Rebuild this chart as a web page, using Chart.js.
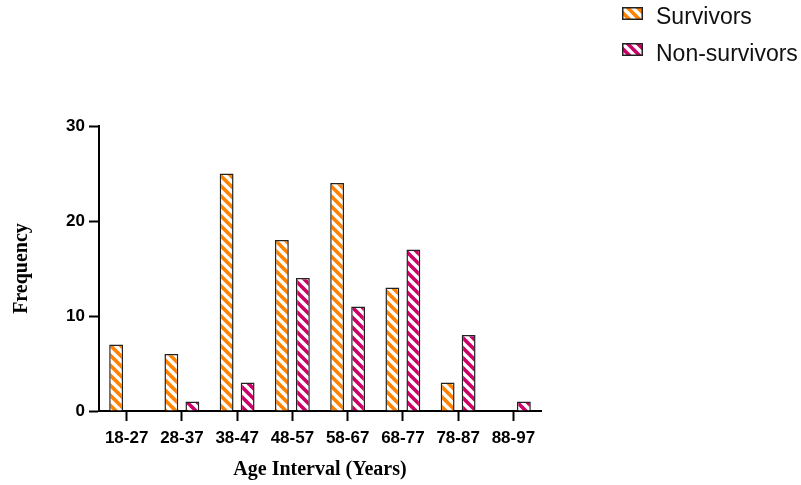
<!DOCTYPE html>
<html>
<head>
<meta charset="utf-8">
<script src="https://cdn.jsdelivr.net/npm/chart.js@4/dist/chart.umd.min.js"></script>
<style>
    body { margin: 0; background: #fff; }
    #wrap { position: relative; width: 801px; height: 485px; }
    .leg { position: absolute; left: 622px; font-family: 'Liberation Sans', Arial, sans-serif; font-size: 23px; line-height: 23px; color: #111; }
    .leg canvas { position: absolute; left: 0; }
    .leg span { position: absolute; left: 34px; top: 0; white-space: nowrap; }
</style>
</head>
<body>
<div id="wrap">
    <canvas id="grafico" width="801" height="485"></canvas>
    <div class="leg" style="top:5px"><canvas id="sw0" width="21" height="13" style="top:2px"></canvas><span>Survivors</span></div>
    <div class="leg" style="top:42px"><canvas id="sw1" width="21" height="13" style="top:1px"></canvas><span>Non-survivors</span></div>
</div>
<script>
const faixas = ['18-27', '28-37', '38-47', '48-57', '58-67', '68-77', '78-87', '88-97'];
const sobreviventes = [7, 6, 25, 18, 24, 13, 3, 0];
const naoSobreviventes = [0, 1, 3, 14, 11, 17, 8, 1];
const nomesSeries = ['Survivors', 'Non-survivors'];
const coresSeries = ['#ff8200', '#cc0066'];
const ticksY = [0, 10, 20, 30];

// listras diagonais brancas sobre a cor
function criarListra(cor) {
    const tile = document.createElement('canvas');
    tile.width = 10; tile.height = 10;
    const c = tile.getContext('2d');
    c.fillStyle = cor;
    c.fillRect(0, 0, 10, 10);
    c.strokeStyle = '#fff';
    c.lineWidth = 3.4;
    for (let k = -1; k <= 1; k++) {
        c.beginPath();
        c.moveTo(k * 10 - 5, -5);
        c.lineTo(k * 10 + 15, 15);
        c.stroke();
    }
    return c.createPattern(tile, 'repeat');
}

const padroes = coresSeries.map(criarListra);

// legenda
['sw0', 'sw1'].forEach((id, i) => {
    const c = document.getElementById(id).getContext('2d');
    c.fillStyle = padroes[i];
    c.fillRect(0, 0, 21, 13);
    c.strokeStyle = '#222';
    c.lineWidth = 1.5;
    c.strokeRect(0.75, 0.75, 19.5, 11.5);
});

const fonteTick = { family: "'Liberation Sans', Arial, sans-serif", size: 17, weight: 'bold' };
const fonteTitulo = { family: "'Liberation Serif', 'Times New Roman', serif", size: 20, weight: 'bold' };

new Chart(document.getElementById('grafico'), {
    type: 'bar',
    data: {
        labels: faixas,
        datasets: [
            { label: nomesSeries[0], data: sobreviventes, backgroundColor: padroes[0], borderColor: '#222', borderWidth: 1.5 },
            { label: nomesSeries[1], data: naoSobreviventes, backgroundColor: padroes[1], borderColor: '#222', borderWidth: 1.5 }
        ]
    },
    options: {
        responsive: false,
        devicePixelRatio: 1,
        animation: false,
        categoryPercentage: 0.76,
        barPercentage: 0.66,
        layout: { padding: { left: 0, top: 126, right: 260, bottom: 0 } },
        plugins: { legend: { display: false }, tooltip: { enabled: false } },
        scales: {
            x: {
                grid: { display: true, drawOnChartArea: false, offset: false, tickLength: 10, tickColor: '#000', tickWidth: 2 },
                border: { color: '#000', width: 2 },
                ticks: { color: '#000', font: fonteTick, padding: 7, maxRotation: 0 },
                title: { display: true, text: 'Age Interval (Years)', color: '#000', font: fonteTitulo, padding: { top: 0, bottom: 3 } },
                afterFit: (s) => { s.height = 74; }
            },
            y: {
                min: 0, max: 30,
                afterBuildTicks: (s) => { s.ticks = ticksY.map(v => ({ value: v })); },
                grid: { display: true, drawOnChartArea: false, tickLength: 10, tickColor: '#000', tickWidth: 2 },
                border: { color: '#000', width: 2 },
                ticks: { color: '#000', font: fonteTick, padding: 4 },
                title: { display: true, text: 'Frequency', color: '#000', font: fonteTitulo, padding: { top: 10, bottom: 0 } },
                afterFit: (s) => { s.width = 99; }
            }
        }
    }
});
</script>
</body>
</html>
